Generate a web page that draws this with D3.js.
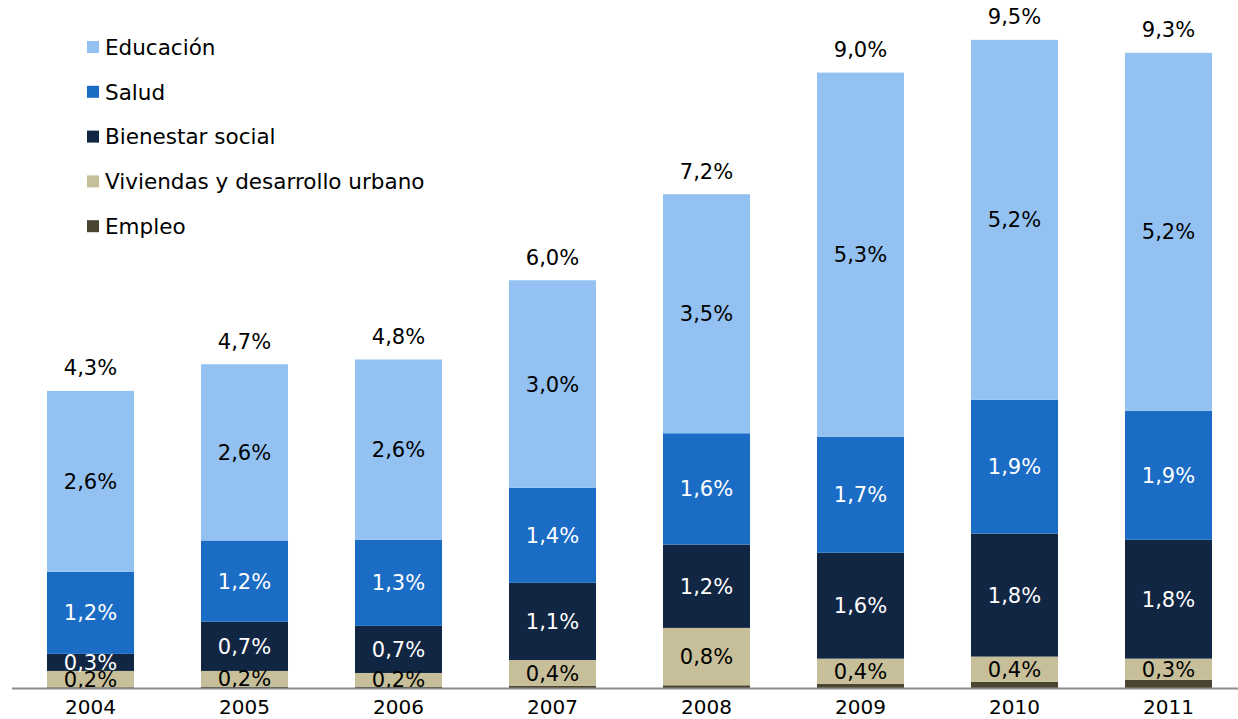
<!DOCTYPE html>
<html>
<head>
<meta charset="utf-8">
<script src="https://cdn.jsdelivr.net/npm/d3@7"></script>
<style>
  body { margin: 0; background: #fff; }
  svg { display: block; font-family: "DejaVu Sans", Verdana, sans-serif; }
</style>
</head>
<body>
<div id="chart"></div>
<script>
// years on the x axis
const years = ["2004", "2005", "2006", "2007", "2008", "2009", "2010", "2011"];

// series, bottom to top (% del PIB)
const empleo     = [0.01, 0.02, 0.02, 0.03, 0.04, 0.06, 0.09, 0.12];
const viviendas  = [0.24, 0.23, 0.20, 0.38, 0.84, 0.37, 0.37, 0.31];
const bienestar  = [0.25, 0.72, 0.69, 1.13, 1.22, 1.55, 1.80, 1.74];
const salud      = [1.20, 1.19, 1.26, 1.39, 1.63, 1.70, 1.96, 1.89];
const educacion  = [2.65, 2.58, 2.64, 3.04, 3.50, 5.33, 5.27, 5.24];

// label texts as printed on the chart
const lblViviendas = ["0,2%", "0,2%", "0,2%", "0,4%", "0,8%", "0,4%", "0,4%", "0,3%"];
const lblBienestar = ["0,3%", "0,7%", "0,7%", "1,1%", "1,2%", "1,6%", "1,8%", "1,8%"];
const lblSalud     = ["1,2%", "1,2%", "1,3%", "1,4%", "1,6%", "1,7%", "1,9%", "1,9%"];
const lblEducacion = ["2,6%", "2,6%", "2,6%", "3,0%", "3,5%", "5,3%", "5,2%", "5,2%"];
const lblTotal     = ["4,3%", "4,7%", "4,8%", "6,0%", "7,2%", "9,0%", "9,5%", "9,3%"];

const series = [
  { name: "Empleo", values: empleo, color: "#4b4430", labels: null, text: "#000" },
  { name: "Viviendas y desarrollo urbano", values: viviendas, color: "#c6bf99", labels: lblViviendas, text: "#000" },
  { name: "Bienestar social", values: bienestar, color: "#112642", labels: lblBienestar, text: "#fff" },
  { name: "Salud", values: salud, color: "#1a6cc4", labels: lblSalud, text: "#fff" },
  { name: "Educación", values: educacion, color: "#93c1f2", labels: lblEducacion, text: "#000" }
];

const width = 1238, height = 719;
const baseY = 688;

const svg = d3.select("#chart").append("svg")
  .attr("width", width)
  .attr("height", height);

const x = d3.scaleBand()
  .domain(years)
  .range([13.5, 1245.5])
  .paddingInner(0.435)
  .paddingOuter(0.2175);

const y = d3.scaleLinear()
  .domain([0, 10])
  .range([baseY, 5]);

// stack the series
const stack = d3.stack()
  .keys(series.map((s, i) => i))
  .value((d, k) => series[k].values[d]);
const stacked = stack(years.map((yr, i) => i));

const layers = svg.selectAll(".layer")
  .data(stacked)
  .enter().append("g")
  .attr("class", "layer")
  .attr("fill", d => series[d.key].color);

layers.selectAll("rect")
  .data(d => d)
  .enter().append("rect")
  .attr("x", (d, i) => x(years[i]))
  .attr("width", x.bandwidth())
  .attr("y", d => y(d[1]))
  .attr("height", d => y(d[0]) - y(d[1]));

// segment labels
stacked.forEach(layer => {
  const s = series[layer.key];
  if (!s.labels) return;
  svg.append("g").selectAll("text")
    .data(layer)
    .enter().append("text")
    .attr("x", (d, i) => x(years[i]) + x.bandwidth() / 2)
    .attr("y", d => (y(d[0]) + y(d[1])) / 2)
    .attr("dy", "0.36em")
    .attr("text-anchor", "middle")
    .attr("font-size", "21px")
    .attr("fill", s.text)
    .text((d, i) => s.labels[i]);
});

// totals above bars
const topLayer = stacked[stacked.length - 1];
svg.append("g").selectAll("text")
  .data(topLayer)
  .enter().append("text")
  .attr("x", (d, i) => x(years[i]) + x.bandwidth() / 2)
  .attr("y", d => y(d[1]) - 23)
  .attr("dy", "0.36em")
  .attr("text-anchor", "middle")
  .attr("font-size", "21px")
  .attr("fill", "#000")
  .text((d, i) => lblTotal[i]);

// x axis
const xAxis = svg.append("g")
  .attr("transform", "translate(0," + baseY + ")")
  .call(d3.axisBottom(x).tickSize(0).tickPadding(12));
xAxis.select(".domain").remove();
xAxis.append("line")
  .attr("x1", 12).attr("x2", width)
  .attr("y1", 0.5).attr("y2", 0.5)
  .attr("stroke", "#8c8c8c")
  .attr("stroke-width", 2);
xAxis.selectAll("text")
  .attr("font-family", "DejaVu Sans, Verdana, sans-serif")
  .attr("font-size", "20px")
  .attr("fill", "#000");

// legend, top to bottom
const legendItems = series.slice().reverse();
const legend = svg.append("g").attr("transform", "translate(87,47)");
const li = legend.selectAll("g")
  .data(legendItems)
  .enter().append("g")
  .attr("transform", (d, i) => "translate(0," + i * 44.8 + ")");
li.append("rect")
  .attr("x", 0).attr("y", -6)
  .attr("width", 12).attr("height", 12)
  .attr("fill", d => d.color);
li.append("text")
  .attr("x", 18)
  .attr("dy", "0.36em")
  .attr("font-size", "21.5px")
  .attr("fill", "#000")
  .text(d => d.name);
</script>
</body>
</html>
